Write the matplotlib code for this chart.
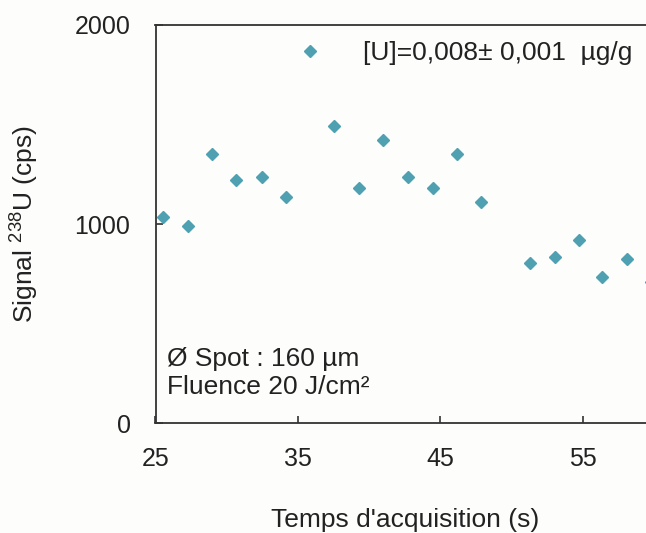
import matplotlib
matplotlib.use("Agg")
import matplotlib.pyplot as plt

plt.rcParams['font.family'] = ['Liberation Sans', 'DejaVu Sans']
plt.rcParams['mathtext.fontset'] = 'custom'
plt.rcParams['mathtext.rm'] = 'Liberation Sans'

# acquisition time (s) and 238U signal (cps)
temps = [25.55, 27.30, 28.99, 30.65, 32.47, 34.16, 37.53, 39.28, 40.96, 42.74,
         44.45, 46.14, 47.84, 51.30, 53.04, 54.74, 56.38, 58.09, 59.77]
signal = [1037, 992, 1351, 1220, 1237, 1136, 1493, 1180, 1423, 1238,
          1180, 1352, 1110, 806, 837, 920, 733, 824, 710]

x_ticks = [25, 35, 45, 55]
y_ticks = [0, 1000, 2000]
legend_label = "[U]=0,008\u00b1 0,001  \u00b5g/g"
notes = ["\u00d8 Spot : 160 \u00b5m", "Fluence 20 J/cm\u00b2"]

marker_color = "#4fa1b2"
ink = "#222222"

fig = plt.figure(figsize=(6.46, 5.33), dpi=100, facecolor="#fdfdfc")
# axes runs a little past the right edge of the picture, as in the original crop
ax = fig.add_axes([155.5 / 646, 109.7 / 533, 498.5 / 646, 398.3 / 533])
ax.set_facecolor("#fdfdfc")

ax.plot(temps, signal, linestyle="none", marker="D", markersize=6.6,
        color=marker_color, label=legend_label, clip_on=False)

ax.set_xlim(25, 60)
ax.set_ylim(0, 2000)
ax.set_xticks(x_ticks)
ax.set_yticks(y_ticks)

for side in ["left", "bottom", "top", "right"]:
    ax.spines[side].set_color("#333333")
    ax.spines[side].set_linewidth(1.3)

ax.tick_params(axis="both", direction="in", length=5, width=1.2,
               colors="#333333", labelsize=18, labelcolor=ink)
ax.tick_params(axis="x", pad=17)
ax.tick_params(axis="y", pad=18)

ax.set_xlabel("Temps d'acquisition (s)", fontsize=19, color=ink, labelpad=27)
ax.set_ylabel("Signal $^{\\mathregular{238}}$U (cps)", fontsize=19, color=ink,
              labelpad=25)

ax.text(25.8, 290, notes[0], fontsize=19, color=ink, va="baseline")
ax.text(25.8, 145, notes[1], fontsize=19, color=ink, va="baseline")

ax.legend(loc="center left", bbox_to_anchor=(0.257, 0.930), frameon=False,
          fontsize=19, handlelength=2.0, handletextpad=1.0, borderpad=0,
          borderaxespad=0, labelcolor=ink)

fig.savefig("out.png", dpi=100, facecolor=fig.get_facecolor())
